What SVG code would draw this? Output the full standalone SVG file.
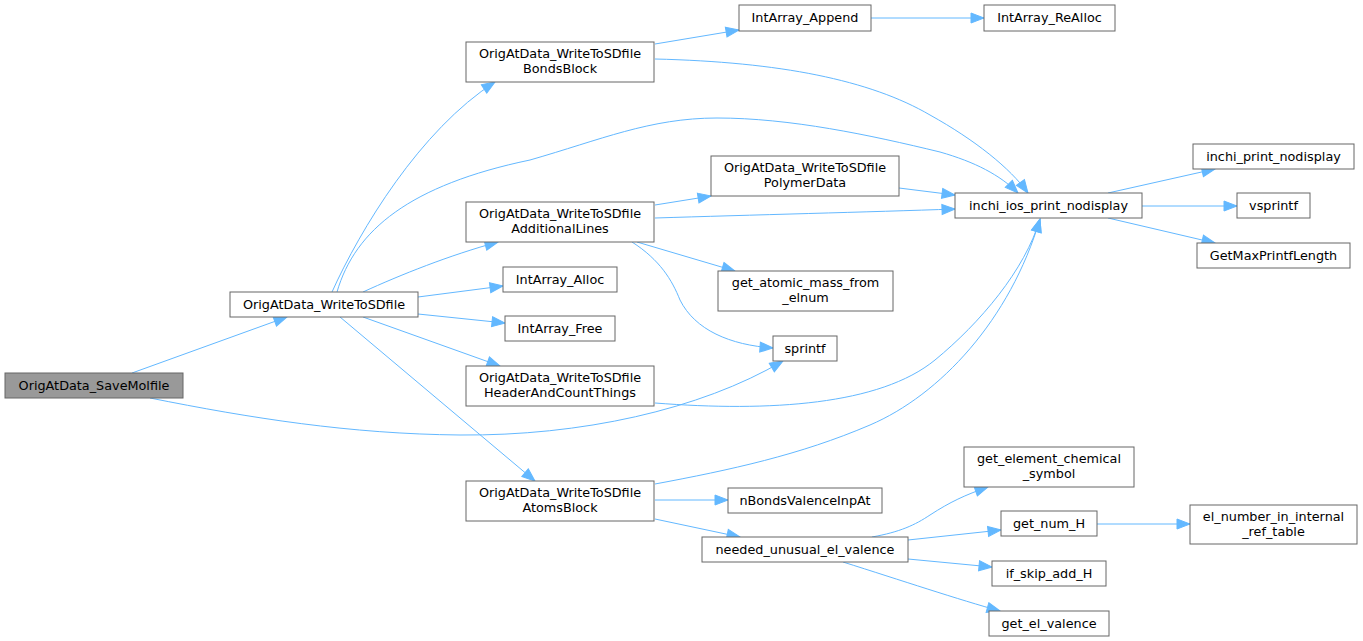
<svg xmlns="http://www.w3.org/2000/svg" width="1363" height="641" viewBox="0 0 1363 641">
<style>
.n rect{fill:#ffffff;stroke:#666666;stroke-width:1}
.root rect{fill:#999999}
.n text{font-family:"DejaVu Sans","Liberation Sans",sans-serif;font-size:12.8px;fill:#000000;text-anchor:middle}
#edges path{fill:none;stroke:#63b8ff;stroke-width:1;marker-end:url(#arr)}
</style>
<defs>
<marker id="arr" markerUnits="userSpaceOnUse" markerWidth="14" markerHeight="11" refX="13" refY="5" orient="auto" overflow="visible">
<path d="M0,0 L13,5 L0,10 z" fill="#63b8ff" stroke="#63b8ff" stroke-width="1"/>
</marker>
</defs>
<rect width="1363" height="641" fill="#ffffff"/>
<g id="edges">
<path d="M132,373 L287,317"/>
<path d="M150,398 C250,418 350,434 460,435 C580,436 700,410 783,361"/>
<path d="M332,292 C360,230 420,130 495,82"/>
<path d="M337,292 C355,230 410,185 530,160 C600,140 650,118 717,118 C790,118 870,135 940,152 C975,162 1000,175 1018,193"/>
<path d="M363,292 C400,275 450,255 498,242"/>
<path d="M418,297 L503,286"/>
<path d="M418,314 L505,323"/>
<path d="M363,317 L500,366"/>
<path d="M340,317 L535,481"/>
<path d="M655,205 L711,196"/>
<path d="M655,218 C750,215 870,212 955,209"/>
<path d="M899,188 L955,195"/>
<path d="M637,242 L735,271"/>
<path d="M632,242 C660,260 672,280 680,300 C695,330 730,345 773,348"/>
<path d="M655,403 C770,412 880,405 935,360 C980,323 1025,270 1040,219"/>
<path d="M655,484 C730,470 800,455 870,425 C940,395 1010,320 1040,219"/>
<path d="M655,500 L728,500"/>
<path d="M655,519 L740,537"/>
<path d="M872,537 C900,532 915,525 930,515 C950,502 965,495 988,487"/>
<path d="M908,540 L1001,530"/>
<path d="M908,559 L992,567"/>
<path d="M843,562 C900,580 960,600 1000,611"/>
<path d="M1097,524 L1190,524"/>
<path d="M1108,193 L1215,169"/>
<path d="M1142,206 L1237,206"/>
<path d="M1108,218 L1215,243"/>
<path d="M871,18 L984,18"/>
<path d="M655,44 L739,30"/>
<path d="M655,59 C780,62 870,80 930,115 C975,140 1010,168 1028,193"/>
</g>
<g id="OrigAtData_SaveMolfile" class="n root"><rect x="5" y="373" width="178" height="25"/><text x="94" y="389.5">OrigAtData_SaveMolfile</text></g>
<g id="OrigAtData_WriteToSDfile" class="n"><rect x="230" y="292" width="188" height="25"/><text x="324" y="308.5">OrigAtData_WriteToSDfile</text></g>
<g id="BondsBlock" class="n"><rect x="466" y="42" width="188" height="40"/><text x="560" y="57.5">OrigAtData_WriteToSDfile</text><text x="560" y="72.5">BondsBlock</text></g>
<g id="AdditionalLines" class="n"><rect x="466" y="202" width="188" height="40"/><text x="560" y="217.5">OrigAtData_WriteToSDfile</text><text x="560" y="232.5">AdditionalLines</text></g>
<g id="IntArray_Alloc" class="n"><rect x="503" y="267" width="114" height="25"/><text x="560" y="283.5">IntArray_Alloc</text></g>
<g id="IntArray_Free" class="n"><rect x="505" y="316" width="110" height="25"/><text x="560" y="332.5">IntArray_Free</text></g>
<g id="HeaderAndCountThings" class="n"><rect x="466" y="366" width="188" height="40"/><text x="560" y="381.5">OrigAtData_WriteToSDfile</text><text x="560" y="396.5">HeaderAndCountThings</text></g>
<g id="AtomsBlock" class="n"><rect x="466" y="481" width="188" height="40"/><text x="560" y="496.5">OrigAtData_WriteToSDfile</text><text x="560" y="511.5">AtomsBlock</text></g>
<g id="IntArray_Append" class="n"><rect x="739" y="5" width="132" height="26"/><text x="805" y="21.5">IntArray_Append</text></g>
<g id="IntArray_ReAlloc" class="n"><rect x="984" y="5" width="131" height="26"/><text x="1049.5" y="21.5">IntArray_ReAlloc</text></g>
<g id="PolymerData" class="n"><rect x="711" y="156" width="188" height="40"/><text x="805" y="171.5">OrigAtData_WriteToSDfile</text><text x="805" y="186.5">PolymerData</text></g>
<g id="inchi_ios_print_nodisplay" class="n"><rect x="955" y="193" width="187" height="25"/><text x="1048.5" y="209.5">inchi_ios_print_nodisplay</text></g>
<g id="get_atomic_mass_from_elnum" class="n"><rect x="718" y="271" width="175" height="40"/><text x="805.5" y="286.5">get_atomic_mass_from</text><text x="805.5" y="301.5">_elnum</text></g>
<g id="sprintf" class="n"><rect x="773" y="336" width="64" height="25"/><text x="805" y="352.5">sprintf</text></g>
<g id="nBondsValenceInpAt" class="n"><rect x="728" y="488" width="154" height="25"/><text x="805" y="504.5">nBondsValenceInpAt</text></g>
<g id="needed_unusual_el_valence" class="n"><rect x="702" y="537" width="206" height="25"/><text x="805" y="553.5">needed_unusual_el_valence</text></g>
<g id="inchi_print_nodisplay" class="n"><rect x="1193" y="144" width="161" height="25"/><text x="1273.5" y="160.5">inchi_print_nodisplay</text></g>
<g id="vsprintf" class="n"><rect x="1237" y="193" width="73" height="25"/><text x="1273.5" y="209.5">vsprintf</text></g>
<g id="GetMaxPrintfLength" class="n"><rect x="1197" y="243" width="153" height="25"/><text x="1273.5" y="259.5">GetMaxPrintfLength</text></g>
<g id="get_element_chemical_symbol" class="n"><rect x="964" y="447" width="170" height="40"/><text x="1049" y="462.5">get_element_chemical</text><text x="1049" y="477.5">_symbol</text></g>
<g id="get_num_H" class="n"><rect x="1001" y="511" width="96" height="25"/><text x="1049" y="527.5">get_num_H</text></g>
<g id="if_skip_add_H" class="n"><rect x="992" y="561" width="114" height="25"/><text x="1049" y="577.5">if_skip_add_H</text></g>
<g id="get_el_valence" class="n"><rect x="989" y="611" width="120" height="25"/><text x="1049" y="627.5">get_el_valence</text></g>
<g id="el_number_in_internal_ref_table" class="n"><rect x="1190" y="505" width="167" height="39"/><text x="1273.5" y="520.5">el_number_in_internal</text><text x="1273.5" y="535.5">_ref_table</text></g>
</svg>
